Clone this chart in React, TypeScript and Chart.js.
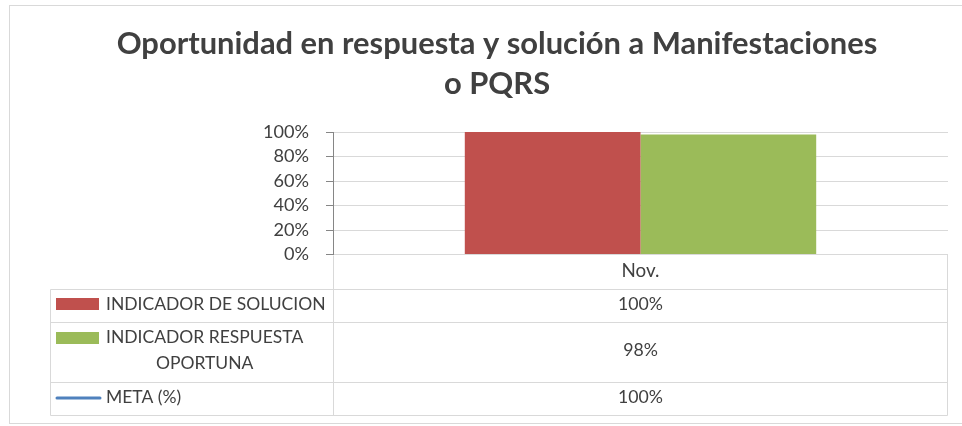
import React, { useEffect, useRef } from 'react';
import { Chart, registerables } from 'chart.js';

Chart.register(...registerables);

// ---- data ----
const TITLE_LINES = ['Oportunidad en respuesta y solución a Manifestaciones', 'o PQRS'];
const CATEGORIES = ['Nov.'];
const SERIES_NAMES = ['INDICADOR DE SOLUCION', 'INDICADOR RESPUESTA OPORTUNA', 'META (%)'];
const SOLUCION = [100];
const RESPUESTA = [98];
const META = [100];
const Y_TICKS = [0, 20, 40, 60, 80, 100];

// ---- style ----
const FONT = 'Lato, "Open Sans", sans-serif';
const TEXT = '#404040';
const GRID = '#d9d9d9';
const AXIS = '#868686';
const RED = '#C0504D';
const GREEN = '#9BBB59';
const BLUE = '#4F81BD';

function fitSize(text: string, weight: string, target: number): number {
  const ctx = document.createElement('canvas').getContext('2d') as CanvasRenderingContext2D;
  ctx.font = `${weight} 100px ${FONT}`;
  const w = ctx.measureText(text).width || 100;
  return Math.round((1000 * target) / w) / 10;
}

function wrap(ctx: CanvasRenderingContext2D, text: string, maxW: number): string[] {
  const words = text.split(' ');
  const lines: string[] = [];
  let cur = '';
  for (const w of words) {
    const t = cur ? cur + ' ' + w : w;
    if (cur && ctx.measureText(t).width > maxW) {
      lines.push(cur);
      cur = w;
    } else cur = t;
  }
  if (cur) lines.push(cur);
  return lines;
}

export default function App() {
  const ref = useRef<HTMLCanvasElement | null>(null);

  useEffect(() => {
    if (!ref.current) return;
    const titleSize = fitSize(TITLE_LINES[0], 'bold', 761);
    const tickSize = fitSize('100%', 'normal', 46);
    const catSize = fitSize('Nov.', 'normal', 38);
    const labelSize = fitSize(SERIES_NAMES[0], 'normal', 219);
    const valueSize = fitSize('100%', 'normal', 45);

    const framePlugin = {
      id: 'frame',
      beforeDraw(chart: any) {
        const c = chart.ctx;
        c.save();
        c.fillStyle = '#fff';
        c.fillRect(0, 0, chart.width, chart.height);
        c.strokeStyle = GRID;
        c.lineWidth = 1;
        c.strokeRect(9.5, 5.5, 1000, 418);
        c.restore();
      },
    };

    const tablePlugin = {
      id: 'dataTable',
      afterDraw(chart: any) {
        const c: CanvasRenderingContext2D = chart.ctx;
        const area = chart.chartArea;
        const tableLeft = 50.5;
        const keyX = 56;
        const keyW = 43;
        const textX = 106;
        const colL = Math.round(area.left) + 0.5;
        const colR = Math.round(area.right) - 0.5;
        const top = Math.round(area.bottom) - 0.5;
        const headerH = 34;
        c.save();
        c.font = `normal ${labelSize}px ${FONT}`;
        const rows = chart.data.datasets.map((ds: any) => ({
          ds,
          lines: wrap(c, ds.label, colL - textX - 2),
        }));
        let y = top + headerH;
        const rowYs: number[] = [y];
        const rowHs: number[] = [];
        rows.forEach((r: any) => {
          const h = 33 + (r.lines.length - 1) * 27;
          rowHs.push(h);
          y += h;
          rowYs.push(y);
        });
        const bottom = y;
        // grid lines
        c.strokeStyle = GRID;
        c.lineWidth = 1;
        c.beginPath();
        rowYs.forEach((ry) => {
          const yy = Math.round(ry) + 0.5;
          c.moveTo(tableLeft, yy);
          c.lineTo(colR, yy);
        });
        c.moveTo(tableLeft, Math.round(rowYs[0]) + 0.5);
        c.lineTo(tableLeft, Math.round(bottom) + 0.5);
        c.moveTo(colL, top + 1);
        c.lineTo(colL, Math.round(bottom) + 0.5);
        c.moveTo(colR, top);
        c.lineTo(colR, Math.round(bottom) + 0.5);
        c.stroke();

        rows.forEach((r: any, i: number) => {
          const rTop = rowYs[i];
          const h = rowHs[i];
          const n = r.lines.length;
          const step = 26;
          const firstY = rTop + h / 2 - ((n - 1) * step) / 2 - 1;
          // key
          const ds = r.ds;
          if (ds.type === 'line') {
            c.strokeStyle = ds.borderColor;
            c.lineWidth = 3;
            c.lineCap = 'round';
            c.beginPath();
            c.moveTo(keyX + 1, firstY + 1);
            c.lineTo(keyX + keyW + 1, firstY + 1);
            c.stroke();
          } else {
            c.fillStyle = ds.backgroundColor;
            c.fillRect(keyX, Math.round(firstY - 6), keyW, 12);
          }
          // label
          c.font = `normal ${labelSize}px ${FONT}`;
          c.fillStyle = TEXT;
          c.textBaseline = 'middle';
          c.textAlign = 'center';
          const maxW = Math.max(...r.lines.map((l: string) => c.measureText(l).width));
          r.lines.forEach((l: string, k: number) => {
            c.fillText(l, textX + maxW / 2, firstY + k * step);
          });
          // value
          c.font = `normal ${valueSize}px ${FONT}`;
          const v = ds.data[0];
          c.fillText(`${v}%`, (colL + colR) / 2, rTop + h / 2 - 1);
        });
        c.restore();
      },
    };

    const chart = new Chart(ref.current, {
      type: 'bar',
      data: {
        labels: CATEGORIES,
        datasets: [
          {
            type: 'bar',
            label: SERIES_NAMES[0],
            data: SOLUCION,
            backgroundColor: RED,
            categoryPercentage: 0.5714,
            barPercentage: 1,
            order: 2,
          },
          {
            type: 'bar',
            label: SERIES_NAMES[1],
            data: RESPUESTA,
            backgroundColor: GREEN,
            categoryPercentage: 0.5714,
            barPercentage: 1,
            order: 2,
          },
          {
            type: 'line',
            label: SERIES_NAMES[2],
            data: META,
            borderColor: BLUE,
            backgroundColor: BLUE,
            borderWidth: 3,
            pointRadius: 0,
            order: 1,
          },
        ] as any,
      },
      options: {
        responsive: false,
        animation: false,
        layout: { padding: { left: 46, right: 14, top: 0, bottom: 0 } },
        plugins: {
          legend: { display: false },
          tooltip: { enabled: false },
          title: {
            display: true,
            text: TITLE_LINES,
            color: TEXT,
            font: { family: FONT, size: titleSize, weight: 'bold', lineHeight: '40px' } as any,
            padding: { top: 24, bottom: 28 },
          },
        },
        scales: {
          x: {
            grid: { display: false, drawTicks: false },
            border: { display: false },
            ticks: {
              color: TEXT,
              font: { family: FONT, size: catSize },
              padding: 270.5 - 254.5 - (catSize * 1.2) / 2,
            },
            afterFit(scale: any) {
              scale.height = 171.5;
            },
          },
          y: {
            min: 0,
            max: 100,
            afterBuildTicks(scale: any) {
              scale.ticks = Y_TICKS.map((v) => ({ value: v }));
            },
            grid: { color: GRID, tickColor: AXIS, tickLength: 7, lineWidth: 1 },
            border: { color: AXIS, width: 1 },
            ticks: {
              color: TEXT,
              autoSkip: false,
              font: { family: FONT, size: tickSize },
              padding: 17,
              callback: (v: any) => `${v}%`,
            },
            afterFit(scale: any) {
              scale.width = 287;
            },
          },
        },
      },
      plugins: [framePlugin, tablePlugin],
    });
    return () => chart.destroy();
  }, []);

  return (
    <div
      style={{
        position: 'fixed',
        left: 0,
        top: 0,
        width: 962,
        height: 426,
        overflow: 'hidden',
        background: '#fff',
      }}
    >
      <canvas ref={ref} width={962} height={426} style={{ display: 'block' }} />
    </div>
  );
}
